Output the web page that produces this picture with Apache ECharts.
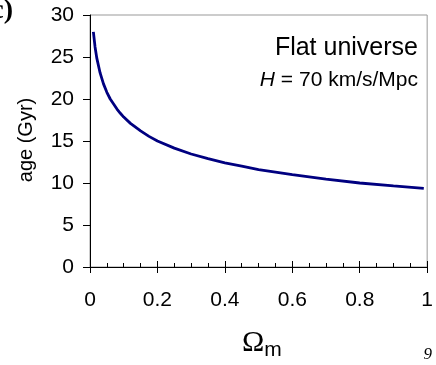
<!DOCTYPE html>
<html>
<head>
<meta charset="utf-8">
<script src="https://cdn.jsdelivr.net/npm/echarts@6/dist/echarts.min.js"></script>
<style>
html,body{margin:0;padding:0;background:#fff;}
#c{width:436px;height:365px;}
</style>
</head>
<body>
<div id="c"></div>
<script>
// Omega_m values and age (Gyr)
var omegaM = [0.01, 0.015, 0.02, 0.03, 0.04, 0.05, 0.06, 0.07, 0.08, 0.09, 0.1, 0.12, 0.15, 0.175, 0.2, 0.25, 0.3, 0.35, 0.4, 0.45, 0.5, 0.6, 0.7, 0.8, 0.9, 0.99];
var ageGyr = [28.0, 26.2, 24.9, 23.1, 21.8, 20.8, 20.0, 19.4, 18.8, 18.3, 17.85, 17.1, 16.2, 15.55, 15.0, 14.15, 13.45, 12.9, 12.4, 12.0, 11.6, 11.0, 10.45, 10.0, 9.65, 9.35];
var xTicks = [0, 0.2, 0.4, 0.6, 0.8, 1];
var yTicks = [0, 5, 10, 15, 20, 25, 30];

var data = omegaM.map(function (x, i) { return [x, ageGyr[i]]; });
var font = '"Liberation Sans", Arial, sans-serif';
var serif = '"Liberation Serif", "Times New Roman", serif';

var chart = echarts.init(document.getElementById('c'), null, {renderer: 'canvas'});
chart.setOption({
  animation: false,
  backgroundColor: '#fff',
  grid: {left: 90, right: 1, top: 15, bottom: 98, show: true, borderColor: '#999', borderWidth: 1, containLabel: false},
  xAxis: [{
    type: 'value', min: xTicks[0], max: xTicks[xTicks.length - 1], interval: 0.2,
    axisLine: {show: true, onZero: false, lineStyle: {color: '#000', width: 1}},
    axisTick: {show: true, inside: true, length: 6, lineStyle: {color: '#000'}},
    minorTick: {show: true, splitNumber: 4, length: 4, lineStyle: {color: '#000'}},
    splitLine: {show: false},
    axisLabel: {fontFamily: font, fontSize: 21, color: '#000', margin: 23,
      formatter: function (v) { return v === 1 ? '1' : String(v); }}
  }, {
    type: 'value', min: xTicks[0], max: xTicks[xTicks.length - 1], interval: 0.2, position: 'bottom',
    axisLine: {show: false},
    axisTick: {show: true, inside: false, length: 6, lineStyle: {color: '#000'}},
    axisLabel: {show: false}, splitLine: {show: false}
  }],
  yAxis: {
    type: 'value', min: yTicks[0], max: yTicks[yTicks.length - 1], interval: 5,
    axisLine: {show: true, onZero: false, lineStyle: {color: '#000', width: 1}},
    axisTick: {show: true, inside: false, length: 7, lineStyle: {color: '#000'}},
    splitLine: {show: false},
    axisLabel: {fontFamily: font, fontSize: 21, color: '#000', margin: 16}
  },
  series: [{
    type: 'line', data: data, xAxisIndex: 0, showSymbol: false, smooth: false,
    lineStyle: {color: '#000080', width: 2.8}
  }],
  graphic: [
    {type: 'text', x: 26, y: 140, rotation: Math.PI / 2,
      style: {text: 'age (Gyr)', font: '20px ' + font, fill: '#000', align: 'center', verticalAlign: 'middle'}},
    {type: 'text', x: 418, y: 48,
      style: {text: 'Flat universe', font: '25px ' + font, fill: '#000', align: 'right', verticalAlign: 'middle'}},
    {type: 'text', x: 418, y: 80,
      style: {text: '{i|H} = 70 km/s/Mpc', font: '21px ' + font, fill: '#000', align: 'right', verticalAlign: 'middle',
        rich: {i: {fontStyle: 'italic', fontFamily: font, fontSize: 21}}}},
    {type: 'text', x: 13, y: 11,
      style: {text: 'c)', font: 'bold 28px ' + serif, fill: '#000', align: 'right', verticalAlign: 'middle'}},
    {type: 'text', x: 242, y: 343,
      style: {text: 'Ω{m|m}', font: '30px ' + serif, fill: '#000', align: 'left', verticalAlign: 'middle',
        rich: {m: {fontFamily: font, fontSize: 21, padding: [14, 0, 0, 0]}}}},
    {type: 'text', x: 432, y: 355,
      style: {text: '9', font: 'italic 17px ' + serif, fill: '#000', align: 'right', verticalAlign: 'middle'}}
  ]
});
</script>
</body>
</html>
